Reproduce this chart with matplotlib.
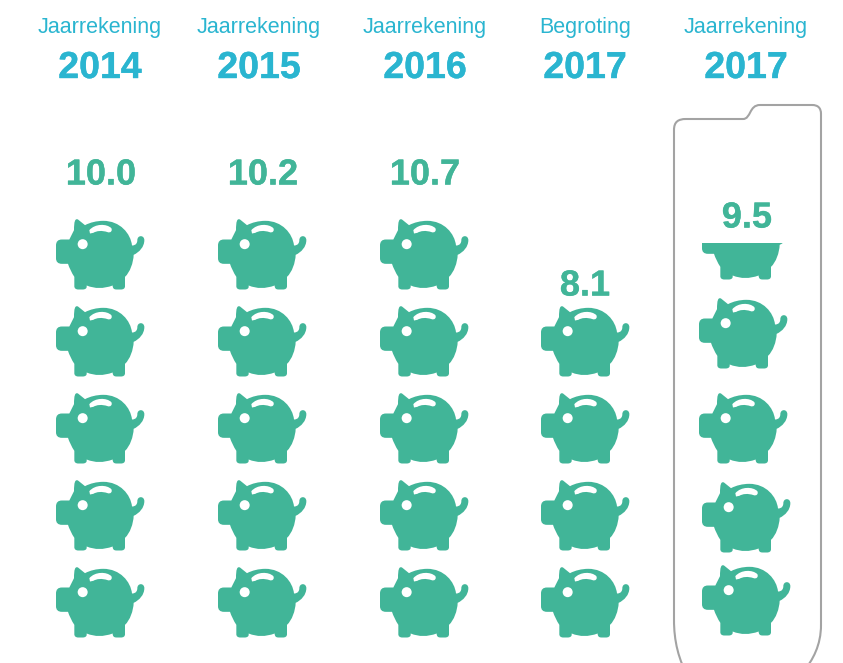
import matplotlib
matplotlib.use('Agg')
import matplotlib.pyplot as plt
import matplotlib.patheffects as pe
from matplotlib.path import Path
from matplotlib.patches import PathPatch, Circle, Rectangle
from matplotlib.transforms import Affine2D

plt.rcParams['font.family'] = ['Liberation Sans', 'DejaVu Sans']

# data
sources = ['Jaarrekening', 'Jaarrekening', 'Jaarrekening', 'Begroting', 'Jaarrekening']
years = ['2014', '2015', '2016', '2017', '2017']
values = ['10.0', '10.2', '10.7', '8.1', '9.5']
pigs_full = [5, 5, 5, 4, 4]
pigs_part = [0, 0, 0, 0, 0.52]

BLUE = '#2AB5D0'
GREEN = '#41B598'
GREY = '#A3A3A3'

# layout in pixels of the 843x663 picture
col_text = [100, 259, 425, 585, 746]
val_text = [101, 263, 425, 585, 747]
col_left = [56, 218, 380, 541, 702]
row_top = [567, 480, 393, 306, 219]
# the last column is stacked by hand in the original
last_left = [702, 702, 699, 699]
last_top = [565, 482, 393, 298]
part_top = 209
part_cut = 243
label_y = [184.5, 184.5, 184.5, 295.5, 227.5]

fig = plt.figure(figsize=(8.43, 6.63), dpi=100)
ax = fig.add_axes([0, 0, 1, 1])
ax.set_xlim(0, 843)
ax.set_ylim(663, 0)
ax.axis('off')

M, L, C = Path.MOVETO, Path.LINETO, Path.CURVE4


def pig_path():
    v = [(48, 108), (48, 96), (54, 90), (66, 90), (L, 88, 90), (L, 102, 62),
         (102, 36), (105, 26), (114, 30), (L, 135, 47),
         (150, 39), (170, 34), (190, 34), (240, 34), (272, 72), (276, 108),
         (288, 108), (292, 100), (292, 92), (292, 76), (313, 76), (313, 92),
         (313, 112), (298, 128), (281, 136),
         (280, 160), (270, 188), (255, 202), (L, 255, 230), (255, 237), (250, 240), (243, 240),
         (L, 230, 240), (222, 240), (218, 237), (218, 228),
         (190, 238), (165, 238), (140, 228), (L, 140, 232), (140, 237), (135, 240), (128, 240),
         (L, 115, 240), (107, 240), (103, 236), (103, 230), (L, 103, 202),
         (95, 190), (88, 175), (84, 163), (L, 66, 163), (54, 163), (48, 157), (48, 146)]
    verts, codes = [v[0]], [M]
    i = 1
    while i < len(v):
        if v[i][0] == L:
            verts.append(v[i][1:]); codes.append(L)
            i += 1
        else:
            verts += v[i:i+3]; codes += [C, C, C]
            i += 3
    verts.append(v[0]); codes.append(Path.CLOSEPOLY)
    return Path([(x/3 - 16, y/3 - 9.5) for x, y in verts], codes)


def slot_path():
    v = [(148, 62), (165, 42), (200, 42), (214, 56), (218, 64), (212, 71), (203, 68),
         (185, 62), (170, 64), (160, 70), (150, 72)]
    codes = [M, C, C, C, C, C, C, C, C, C, L]
    return Path([(x/3 - 16, y/3 - 9.5) for x, y in v], codes)


PIG = pig_path()
SLOT = slot_path()


def draw_pig(left, top, cut=None):
    tr = Affine2D().translate(left, top) + ax.transData
    body = PathPatch(PIG, fc=GREEN, ec='none', transform=tr, zorder=3)
    ax.add_patch(body)
    slot = PathPatch(SLOT, fc='white', ec='none', transform=tr, zorder=4)
    ax.add_patch(slot)
    eye = Circle((128/3 - 16, 104/3 - 9.5), 5, fc='white', ec='none', transform=tr, zorder=4)
    ax.add_patch(eye)
    if cut is not None:
        clip = Rectangle((left - 5, cut), 100, 100, transform=ax.transData)
        for p in (body, slot, eye):
            p.set_clip_path(clip)


for i in range(len(years)):
    ax.text(col_text[i], 33.5, sources[i], color=BLUE, fontsize=15.5, ha='center', va='baseline')
    t = ax.text(col_text[i], 78, years[i], color=BLUE, fontsize=27, fontweight='bold', ha='center', va='baseline')
    t.set_path_effects([pe.withStroke(linewidth=0.3, foreground=BLUE)])
    t = ax.text(val_text[i], label_y[i], values[i], color=GREEN, fontsize=26, fontweight='bold', ha='center', va='baseline')
    t.set_path_effects([pe.withStroke(linewidth=0.3, foreground=GREEN)])
    for r in range(pigs_full[i]):
        if i == 4:
            draw_pig(last_left[r], last_top[r])
        else:
            draw_pig(col_left[i], row_top[r])
    if pigs_part[i] > 0:
        draw_pig(col_left[i], part_top, cut=part_cut)

# tab shaped frame round the last column
frame = Path([(690, 680), (678, 660), (674, 640), (674, 620), (674, 130), (674, 122), (678, 119), (686, 119),
              (743, 119), (751, 119), (749, 105), (760, 105), (812, 105), (818, 105), (821, 108), (821, 114),
              (821, 625), (821, 645), (813, 660), (803, 672)],
             [M, C, C, C, L, C, C, C, L, C, C, C, L, C, C, C, L, C, C, C])
ax.add_patch(PathPatch(frame, fc='none', ec=GREY, lw=1.5, zorder=2))

fig.savefig('out.png', dpi=100)
